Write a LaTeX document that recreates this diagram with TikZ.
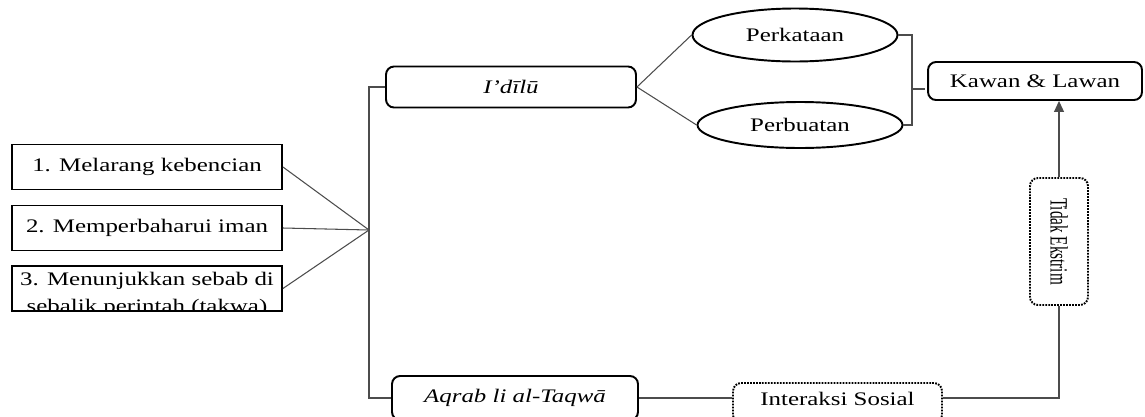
\documentclass[tikz,border=0pt]{standalone}
\usepackage{fontspec}
\setmainfont{Liberation Serif}[FakeStretch=1.3]
\usetikzlibrary{shapes.geometric,arrows.meta}
\tikzset{
  txt/.style={font=\fontsize{10.9}{15.4}\selectfont},
  pointbox/.style={txt,draw,line width=1.1pt,minimum width=5.4cm,minimum height=0.9cm,inner sep=0pt},
  mainbox/.style={txt,draw,line width=1.1pt,rounded corners=0.16cm,inner sep=0pt},
  dotbox/.style={txt,draw,line width=1.1pt,dash pattern=on 1pt off 0.7pt,rounded corners=0.16cm,inner sep=0pt},
  talk/.style={txt,draw,line width=1.1pt,ellipse,inner sep=0pt,minimum width=4.1cm},
  link/.style={draw=black!70,line width=0.6pt},
}

\begin{document}
\begin{tikzpicture}[x=0.02cm,y=-0.02cm]
    \useasboundingbox (0,0) rectangle (1145,416);
    % left: three points
    \node[pointbox] (satu) at (147,167) {\raisebox{0.06cm}{1. Melarang kebencian}};
    \node[pointbox] (dua) at (147,228) {\raisebox{0.08cm}{2. Memperbaharui iman}};
    \node[pointbox] (tiga) at (147,288.5) {};
    \begin{scope}
      \clip (tiga.south west) rectangle (tiga.north east);
      \node[txt,align=center,inner sep=0pt] (tigatxt) at (147,294.5)
        {3. Menunjukkan sebab di\\sebalik perintah (takwa)};
    \end{scope}
    \coordinate (hub) at (369,230);
    %
    \node[mainbox,minimum width=5cm,minimum height=0.82cm] (idilu) at (511,87) {\itshape I’dīlū};
    \node[mainbox,minimum width=4.92cm,minimum height=0.88cm] (aqrab) at (515,398) {\itshape Aqrab li al-Taqwā};
    \node[talk,minimum height=1.06cm] (kata) at (795,35) {Perkataan};
    \node[talk,minimum height=0.92cm] (buat) at (800,125) {Perbuatan};
    \node[mainbox,minimum width=4.28cm,minimum height=0.76cm] (kawan) at (1035,81) {Kawan \& Lawan};
    \node[dotbox,minimum width=1.16cm,minimum height=2.54cm] (tidak) at (1059,241.5)
      {\rotatebox{-90}{\scalebox{0.61}[1.3]{Tidak Ekstrim}}};
    \node[dotbox,minimum width=4.18cm,minimum height=0.8cm] (sosial) at (837.5,403) {\raisebox{0.17cm}{Interaksi Sosial}};
    \coordinate (brk) at (912,89);
    %
    \draw[link] (satu.east) -- (hub);
    \draw[link] (dua.east) -- (hub);
    \draw[link] (tiga.east) -- (hub);
    \draw[link] (idilu.west) -| (hub) |- (aqrab.west);
    \draw[link] (idilu.east) -- (kata.west);
    \draw[link] (idilu.east) -- (buat.west);
    \draw[link] (kata.east) -| (brk) |- (buat.east);
    \draw[link] (brk) -- ++(13,0);
    \draw[link] (aqrab.east) -- (aqrab.east -| sosial.west);
    \draw[link] (sosial.east |- aqrab.east) -| (tidak.south);
    \draw[link,-{Triangle[length=0.22cm,width=0.2cm]}] (tidak.north) -- (tidak.north |- kawan.south);
\end{tikzpicture}
\end{document}
